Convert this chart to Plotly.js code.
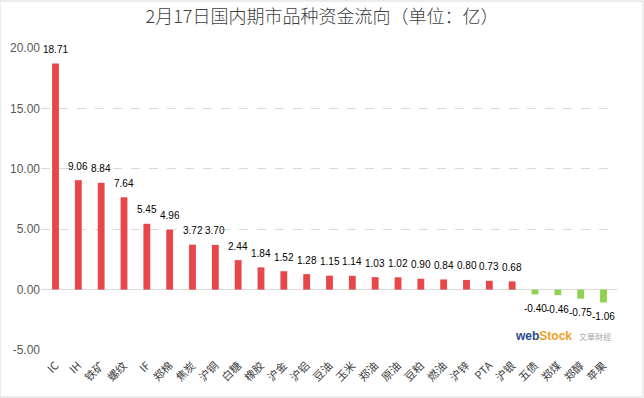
<!DOCTYPE html>
<html><head><meta charset="utf-8">
<script src="https://cdn.plot.ly/plotly-3.0.1.min.js"></script>
<style>html,body{margin:0;padding:0;background:#fff}#c{width:644px;height:398px}</style>
</head><body><div id="c"></div>
<script>
const categories = ["IC","IH","铁矿","螺纹","IF","郑棉","焦炭","沪铜","白糖","橡胶","沪金","沪铝","豆油","玉米","郑油","原油","豆粕","燃油","沪锌","PTA","沪银","五债","郑煤","郑醇","苹果"];
const values = [18.71,9.06,8.84,7.64,5.45,4.96,3.72,3.70,2.44,1.84,1.52,1.28,1.15,1.14,1.03,1.02,0.90,0.84,0.80,0.73,0.68,-0.40,-0.46,-0.75,-1.06];
const yTicks = [-5,0,5,10,15,20];
const yTickText = ["-5.00","0.00","5.00","10.00","15.00","20.00"];
const colors = values.map(v => v >= 0 ? "#E8474A" : "#92D050");
const trace = {
  type: "bar", x: categories, y: values,
  marker: {color: colors},
  width: 0.3,
  hoverinfo: "x+y"
};
const labelAnns = categories.map((c, i) => ({
  x: c, y: values[i], xref: "x", yref: "y", showarrow: false,
  text: values[i].toFixed(2), yanchor: "middle", xanchor: "center",
  yshift: values[i] >= 0 ? 14 : -14,
  font: {family: "Liberation Sans, Arial", size: 10, color: "#000"}
}));
const layout = {
  width: 644, height: 398,
  margin: {l: 41, r: 27, t: 48, b: 48},
  paper_bgcolor: "#fff", plot_bgcolor: "#fff",
  title: {text: "2月17日国内期市品种资金流向（单位：亿）", x: 0.5, xanchor: "center", y: 0.975, yanchor: "top",
          font: {family: "Noto Sans CJK SC", size: 18, color: "#404040", weight: 300}},
  showlegend: false,
  xaxis: {tickangle: -45, tickfont: {family: "Noto Sans CJK SC", size: 11, color: "#404040"},
          ticklabelstandoff: 6,
          showgrid: false, showline: false, ticks: "", automargin: false},
  yaxis: {range: [-5, 20], tickvals: yTicks, ticktext: yTickText,
          tickfont: {family: "Liberation Sans, Arial", size: 12, color: "#595959"},
          showgrid: true, gridcolor: "#d9d9d9", griddash: "dash", gridwidth: 1,
          zeroline: true, zerolinecolor: "#d9d9d9", zerolinewidth: 1,
          showline: false, ticks: "", automargin: false},
  bargap: 0.7,
  shapes: [{type: "rect", xref: "paper", yref: "paper", x0: -41/576, x1: 1 + 26/576, y0: -47/302, y1: 1 + 47/302,
            line: {color: "#d9d9d9", width: 1}}],
  annotations: labelAnns.concat([
    {xref: "paper", yref: "paper", x: 0.925, y: 0.045, xanchor: "right", yanchor: "middle", showarrow: false,
     text: "<b>web</b><b style='color:#f0a020'>Stock</b>", font: {family: "Liberation Sans, Arial", size: 12, color: "#2a4a8a"}},
    {xref: "paper", yref: "paper", x: 0.93, y: 0.045, xanchor: "left", yanchor: "middle", showarrow: false,
     text: "文華財經", font: {family: "Noto Sans CJK SC", size: 8, color: "#aaaaaa"}}
  ])
};
Plotly.newPlot("c", [trace], layout, {displayModeBar: false, staticPlot: true});
</script></body></html>
